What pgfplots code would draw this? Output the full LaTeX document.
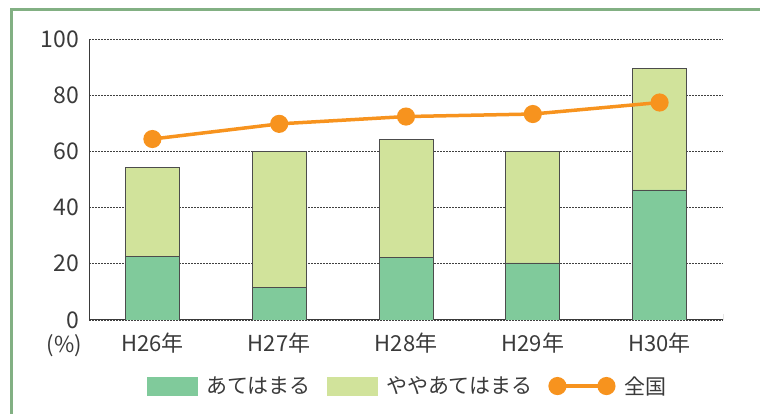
\documentclass[border=0pt]{standalone}
\usepackage{fontspec}
\setmainfont{Noto Sans CJK JP}
\usepackage{pgfplots}
\pgfplotsset{compat=1.18}
\definecolor{cA}{HTML}{80CA9B}
\definecolor{cB}{HTML}{D1E39B}
\definecolor{cL}{HTML}{F7931E}
\definecolor{frm}{HTML}{82B083}
\definecolor{txt}{HTML}{3A3A3A}
\pgfplotsset{base/.style={at={(89pt,94pt)}, anchor=south west, scale only axis,
  width=634pt, height=281pt, xmin=-0.5, xmax=4.5, ymin=0, ymax=100}}
\begin{document}
\begin{tikzpicture}
\path[use as bounding box] (0pt,0pt) rectangle (760pt,414pt);
\draw[frm, line width=3pt] (11pt,-10pt) -- (11pt,404pt) -- (780pt,404pt);
\begin{axis}[base, ybar stacked, bar width=54pt,
  axis x line*=bottom, axis y line*=left,
  axis line style={-, draw=txt, line width=1pt},
  xtick={0,1,2,3,4}, xticklabels={H26年,H27年,H28年,H29年,H30年},
  ytick={0,20,...,100}, major tick length=0pt,
  ymajorgrids, major grid style={draw=black!75, line width=0.8pt, dash pattern=on 2pt off 1pt},
  tick label style={text=txt},
  /pgf/number format/assume math mode=true,
  yticklabel style={font=\fontsize{23pt}{23pt}\selectfont, anchor=east, inner sep=0pt, xshift=-10pt},
  xticklabel style={font=\fontsize{22pt}{22pt}\selectfont, anchor=base, inner sep=0pt, yshift=-32pt},
]
\addplot[fill=cA, draw=black!70, line width=0.7pt] coordinates {(0,22.5) (1,11.6) (2,22.4) (3,20.3) (4,46.3)};
\addplot[fill=cB, draw=black!70, line width=0.7pt] coordinates {(0,31.7) (1,48.3) (2,42.0) (3,39.7) (4,43.3)};
\draw[txt, line width=1pt] (axis cs:4.5,0) -- ++(0pt,6pt);
\end{axis}
\begin{axis}[base, hide axis,
  legend columns=3,
  legend style={at={(0.503,-0.235)}, anchor=center, draw=none, fill=none,
    font=\fontsize{21pt}{21pt}\selectfont, text=txt, cells={anchor=west},
    /tikz/every odd column/.append style={column sep=7pt},
    /tikz/every even column/.append style={column sep=14pt}},
]
\addlegendimage{legend image code/.code={\fill[cA] (0pt,-9pt) rectangle (50pt,9pt);}}
\addlegendentry{あてはまる}
\addlegendimage{legend image code/.code={\fill[cB] (0pt,-9pt) rectangle (50pt,9pt);}}
\addlegendentry{ややあてはまる}
\addplot[cL, line width=3.5pt, mark=*, mark size=7.3pt,
  legend image code/.code={\draw[cL, line width=3.5pt] (0pt,0pt) -- (49pt,0pt);
    \fill[cL] (0pt,0pt) circle (7.3pt); \fill[cL] (49pt,0pt) circle (7.3pt);}]
  coordinates {(0,64.4) (1,69.8) (2,72.4) (3,73.3) (4,77.4)};
\addlegendentry{全国}
\end{axis}
\node[anchor=base east, text=txt, font=\fontsize{22pt}{22pt}\selectfont, inner sep=0pt] at (82pt,61pt) {(\%)};
\end{tikzpicture}
\end{document}
